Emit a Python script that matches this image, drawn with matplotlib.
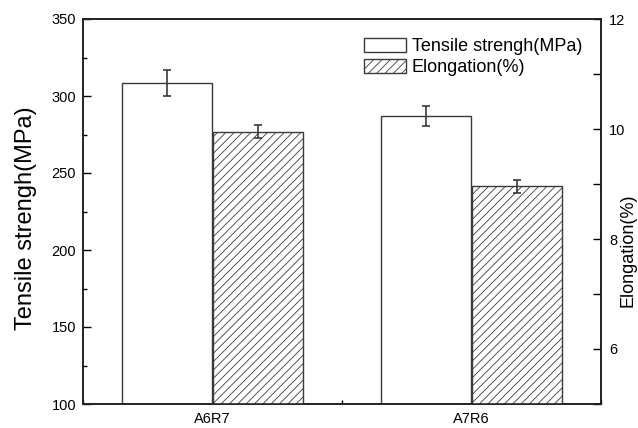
import matplotlib
matplotlib.use("Agg")
import matplotlib.pyplot as plt
from matplotlib.ticker import MultipleLocator, FixedLocator
import numpy as np

categories = ["A6R7", "A7R6"]
tensile = [308.3, 287.0]
tensile_err = [8.3, 6.2]
elongation = [9.95, 8.96]
elongation_err = [0.12, 0.12]

plt.rcParams['font.family'] = ['Liberation Sans', 'DejaVu Sans']
plt.rcParams['hatch.color'] = '#a8a8a8'
plt.rcParams['hatch.linewidth'] = 0.6

fig = plt.figure(figsize=(6.38, 4.28), dpi=100)
ax = fig.add_axes([83/638, 24/428, (601-83)/638, (404-19)/428])
ax2 = ax.twinx()

x = np.arange(1, len(categories) + 1)
w = 0.35
edge = '#3a3a3a'

b1 = ax.bar(x - w/2, tensile, w, color='white', edgecolor=edge, linewidth=1.0,
            label='Tensile strengh(MPa)', zorder=2)
ax.errorbar(x - w/2, tensile, yerr=tensile_err, fmt='none', ecolor=edge, elinewidth=1.2,
            capsize=2.7, capthick=1.2, zorder=3)
b2 = ax2.bar(x + w/2, elongation, w, color='white', edgecolor=edge, linewidth=1.0,
             hatch='////', label='Elongation(%)', zorder=2)
ax2.errorbar(x + w/2, elongation, yerr=elongation_err, fmt='none', ecolor=edge, elinewidth=1.2,
             capsize=2.7, capthick=1.2, zorder=3)

ax.set_xlim(0.5, 2.5)
ax.set_ylim(100, 350)
ax2.set_ylim(5, 12)

ax.xaxis.set_major_locator(FixedLocator([0.5, 1.5, 2.5]))
ax.set_xticklabels([])
ax.xaxis.set_minor_locator(FixedLocator(list(x)))
ax.set_xticklabels(categories, minor=True)
ax.tick_params(axis='x', which='major', direction='in', length=3, width=1)
ax.tick_params(axis='x', which='minor', length=0, labelsize=10.5, pad=6)

ax.yaxis.set_major_locator(MultipleLocator(50))
ax.yaxis.set_minor_locator(MultipleLocator(25))
ax.tick_params(axis='y', which='major', direction='in', length=6, width=1, labelsize=10.5, pad=5)
ax.tick_params(axis='y', which='minor', direction='in', length=3, width=1)

ax2.yaxis.set_major_locator(MultipleLocator(2))
ax2.yaxis.set_minor_locator(MultipleLocator(1))
ax2.tick_params(axis='y', which='major', direction='in', length=6, width=1, labelsize=10.5, pad=6)
ax2.tick_params(axis='y', which='minor', direction='in', length=6, width=1)

for a in (ax, ax2):
    for s in a.spines.values():
        s.set_linewidth(1.2)
        s.set_color('#222222')

ax.set_ylabel('Tensile strengh(MPa)', fontsize=17)
ax.yaxis.set_label_coords((37 - 83) / 518, (404 - 218) / 385)
ax2.set_ylabel('Elongation(%)', fontsize=13)
ax2.yaxis.set_label_coords((619 - 83) / 518, (404 - 250) / 385)

leg = fig.legend([b1, b2], ['Tensile strengh(MPa)', 'Elongation(%)'], loc='upper left',
                 bbox_to_anchor=(364/638, (428-38)/428), frameon=False, fontsize=13,
                 handlelength=2.3, handleheight=0.8, handletextpad=0.35, labelspacing=0.2,
                 borderpad=0, borderaxespad=0)

fig.savefig('out.png', dpi=100)
